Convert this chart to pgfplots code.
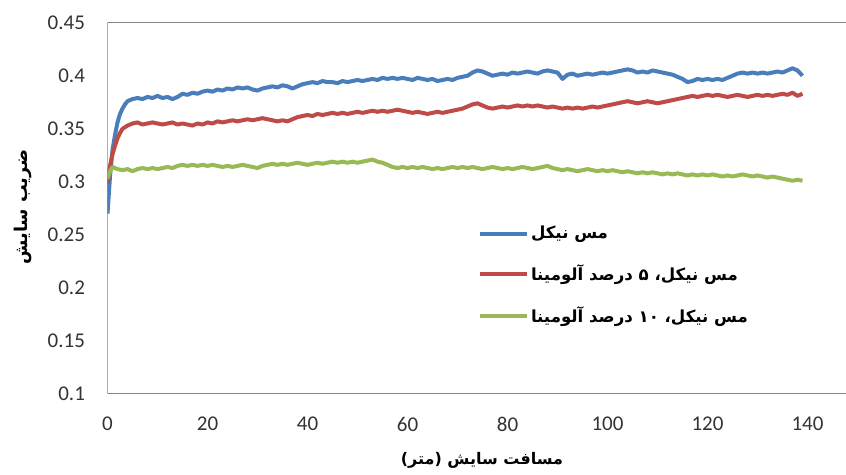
\documentclass[border=0pt]{standalone}
\usepackage{fontspec}
\usepackage{pgfplots}
\pgfplotsset{compat=1.18}
\setmainfont{Carlito}
\newfontfamily\fa[Script=Arabic]{DejaVu Sans}
\TeXXeTstate=1
\definecolor{cblue}{HTML}{4A7EBB}
\definecolor{cred}{HTML}{BE4B48}
\definecolor{cgreen}{HTML}{98B954}
\definecolor{frame}{HTML}{868686}
\begin{document}
\begin{tikzpicture}
\path[use as bounding box] (-53.75pt,-40.5pt) rectangle (369.25pt,197pt);
\begin{axis}[
  at={(0pt,0pt)}, anchor=south west,
  width=369.25pt, height=185.65pt, scale only axis,
  xmin=0, xmax=147.7, ymin=0.1, ymax=0.45,
  axis line style={draw=none},
  major tick length=0pt,
  xtick={0,20,40,60,80,100,120,140},
  xticklabels={0,20,40,60,80,100,120,140},
  ytick={0.1,0.15,0.2,0.25,0.3,0.35,0.4,0.45},
  yticklabels={0.1,0.15,0.2,0.25,0.3,0.35,0.4,0.45},
  tick label style={font=\fontsize{10.5}{12}\selectfont, text=black!80},
  xticklabel style={yshift=-8pt},
  yticklabel style={xshift=-7.75pt},
  xlabel={\fa\bfseries\beginR مسافت سایش (متر)\endR},
  xlabel style={at={(axis description cs:0.507,0)}, anchor=center, yshift=-33pt, font=\fontsize{8}{10}\selectfont},
  ylabel={\fa\bfseries\beginR ضریب سایش\endR},
  ylabel style={at={(axis description cs:-0.1144,0.504)}, anchor=center, font=\fontsize{8.8}{10}\selectfont},
  legend style={draw=none, fill=none, at={(axis description cs:0.5017,0.465)}, anchor=north west,
    font=\fontsize{8.3}{10}\selectfont, row sep=7.5pt, inner sep=0pt, nodes={inner xsep=0.8pt}},
  legend cell align=left,
  legend image code/.code={\draw[#1, line width=2pt] (0pt,0pt) -- (23.5pt,0pt);},
  line join=round,
]
\draw[frame, line width=0.7pt] (rel axis cs:1,1) -- (rel axis cs:0,1) -- (rel axis cs:0,0) -- (rel axis cs:1,0);
\addplot[cblue, line width=2pt] coordinates {
(0,0.270)(0.5,0.305)(1,0.330)(1.5,0.344)(2,0.356)(2.5,0.364)(3,0.369)(3.5,0.373)(4,0.376)(5,0.378)
(6,0.379)(7,0.378)(8,0.380)(9,0.379)(10,0.381)(11,0.379)(12,0.380)(13,0.378)(14,0.380)(15,0.383)
(16,0.382)(17,0.384)(18,0.383)(19,0.385)(20,0.386)(21,0.385)(22,0.387)(23,0.386)(24,0.388)(25,0.387)
(26,0.389)(27,0.388)(28,0.389)(29,0.387)(30,0.386)(31,0.388)(32,0.389)(33,0.390)(34,0.389)(35,0.391)
(36,0.390)(37,0.388)(38,0.390)(39,0.392)(40,0.393)(41,0.394)(42,0.393)(43,0.395)(44,0.394)(45,0.394)
(46,0.393)(47,0.395)(48,0.394)(49,0.395)(50,0.396)(51,0.395)(52,0.396)(53,0.397)(54,0.396)(55,0.398)
(56,0.397)(57,0.398)(58,0.397)(59,0.398)(60,0.397)(61,0.396)(62,0.398)(63,0.397)(64,0.396)(65,0.397)
(66,0.395)(67,0.396)(68,0.397)(69,0.396)(70,0.398)(71,0.399)(72,0.400)(73,0.403)(74,0.405)(75,0.404)
(76,0.402)(77,0.400)(78,0.401)(79,0.402)(80,0.401)(81,0.403)(82,0.402)(83,0.403)(84,0.404)(85,0.403)
(86,0.402)(87,0.404)(88,0.405)(89,0.404)(90,0.403)(91,0.397)(92,0.401)(93,0.402)(94,0.400)(95,0.401)
(96,0.402)(97,0.401)(98,0.402)(99,0.403)(100,0.402)(101,0.403)(102,0.404)(103,0.405)(104,0.406)(105,0.405)
(106,0.403)(107,0.404)(108,0.403)(109,0.405)(110,0.404)(111,0.403)(112,0.402)(113,0.401)(114,0.399)(115,0.397)
(116,0.394)(117,0.395)(118,0.397)(119,0.396)(120,0.397)(121,0.396)(122,0.397)(123,0.396)(124,0.398)(125,0.400)
(126,0.402)(127,0.403)(128,0.402)(129,0.403)(130,0.402)(131,0.403)(132,0.402)(133,0.403)(134,0.404)(135,0.403)
(136,0.405)(137,0.407)(138,0.405)(139,0.400)
};
\addlegendentry{\fa\bfseries\beginR مس نیکل\endR}
\addplot[cred, line width=2pt] coordinates {
(0,0.298)(0.5,0.315)(1,0.326)(1.5,0.334)(2,0.341)(2.5,0.346)(3,0.350)(4,0.353)(5,0.355)
(6,0.356)(7,0.354)(8,0.355)(9,0.356)(10,0.355)(11,0.354)(12,0.355)(13,0.356)(14,0.354)(15,0.355)
(16,0.354)(17,0.353)(18,0.355)(19,0.354)(20,0.356)(21,0.355)(22,0.357)(23,0.356)(24,0.357)(25,0.358)
(26,0.357)(27,0.358)(28,0.359)(29,0.358)(30,0.359)(31,0.360)(32,0.359)(33,0.358)(34,0.357)(35,0.358)
(36,0.357)(37,0.359)(38,0.361)(39,0.362)(40,0.363)(41,0.362)(42,0.364)(43,0.363)(44,0.364)(45,0.365)
(46,0.364)(47,0.365)(48,0.364)(49,0.365)(50,0.366)(51,0.365)(52,0.366)(53,0.367)(54,0.366)(55,0.367)
(56,0.366)(57,0.367)(58,0.368)(59,0.367)(60,0.366)(61,0.365)(62,0.366)(63,0.365)(64,0.364)(65,0.365)
(66,0.366)(67,0.365)(68,0.366)(69,0.367)(70,0.368)(71,0.369)(72,0.371)(73,0.373)(74,0.374)(75,0.372)
(76,0.370)(77,0.369)(78,0.370)(79,0.371)(80,0.370)(81,0.371)(82,0.372)(83,0.371)(84,0.372)(85,0.371)
(86,0.372)(87,0.371)(88,0.370)(89,0.371)(90,0.370)(91,0.369)(92,0.370)(93,0.369)(94,0.370)(95,0.369)
(96,0.370)(97,0.371)(98,0.370)(99,0.371)(100,0.372)(101,0.373)(102,0.374)(103,0.375)(104,0.376)(105,0.375)
(106,0.374)(107,0.375)(108,0.376)(109,0.375)(110,0.374)(111,0.375)(112,0.376)(113,0.377)(114,0.378)(115,0.379)
(116,0.380)(117,0.381)(118,0.380)(119,0.381)(120,0.382)(121,0.381)(122,0.382)(123,0.381)(124,0.380)(125,0.381)
(126,0.382)(127,0.381)(128,0.380)(129,0.381)(130,0.382)(131,0.381)(132,0.382)(133,0.381)(134,0.382)(135,0.383)
(136,0.382)(137,0.384)(138,0.381)(139,0.383)
};
\addlegendentry{\fa\bfseries\beginR مس نیکل، ۵ درصد آلومینا\endR}
\addplot[cgreen, line width=2pt] coordinates {
(0,0.303)(0.5,0.310)(1,0.314)(2,0.312)(3,0.311)(4,0.312)(5,0.310)
(6,0.312)(7,0.313)(8,0.312)(9,0.313)(10,0.312)(11,0.313)(12,0.314)(13,0.313)(14,0.315)(15,0.316)
(16,0.315)(17,0.316)(18,0.315)(19,0.316)(20,0.315)(21,0.316)(22,0.315)(23,0.314)(24,0.315)(25,0.314)
(26,0.315)(27,0.316)(28,0.315)(29,0.314)(30,0.313)(31,0.315)(32,0.316)(33,0.317)(34,0.316)(35,0.317)
(36,0.316)(37,0.317)(38,0.318)(39,0.317)(40,0.316)(41,0.317)(42,0.318)(43,0.317)(44,0.318)(45,0.319)
(46,0.318)(47,0.319)(48,0.318)(49,0.319)(50,0.318)(51,0.319)(52,0.320)(53,0.321)(54,0.319)(55,0.318)
(56,0.316)(57,0.314)(58,0.313)(59,0.314)(60,0.313)(61,0.314)(62,0.313)(63,0.314)(64,0.313)(65,0.312)
(66,0.313)(67,0.312)(68,0.313)(69,0.314)(70,0.313)(71,0.314)(72,0.313)(73,0.314)(74,0.313)(75,0.312)
(76,0.313)(77,0.314)(78,0.313)(79,0.312)(80,0.313)(81,0.312)(82,0.313)(83,0.314)(84,0.313)(85,0.312)
(86,0.313)(87,0.314)(88,0.315)(89,0.313)(90,0.312)(91,0.311)(92,0.312)(93,0.311)(94,0.310)(95,0.311)
(96,0.312)(97,0.311)(98,0.310)(99,0.311)(100,0.310)(101,0.311)(102,0.310)(103,0.309)(104,0.310)(105,0.309)
(106,0.308)(107,0.309)(108,0.308)(109,0.309)(110,0.308)(111,0.307)(112,0.308)(113,0.307)(114,0.308)(115,0.307)
(116,0.306)(117,0.307)(118,0.306)(119,0.307)(120,0.306)(121,0.307)(122,0.306)(123,0.305)(124,0.306)(125,0.305)
(126,0.306)(127,0.307)(128,0.306)(129,0.305)(130,0.306)(131,0.305)(132,0.304)(133,0.305)(134,0.304)(135,0.303)
(136,0.302)(137,0.301)(138,0.302)(139,0.301)
};
\addlegendentry{\fa\bfseries\beginR مس نیکل، ۱۰ درصد آلومینا\endR}
\end{axis}
\end{tikzpicture}
\end{document}
